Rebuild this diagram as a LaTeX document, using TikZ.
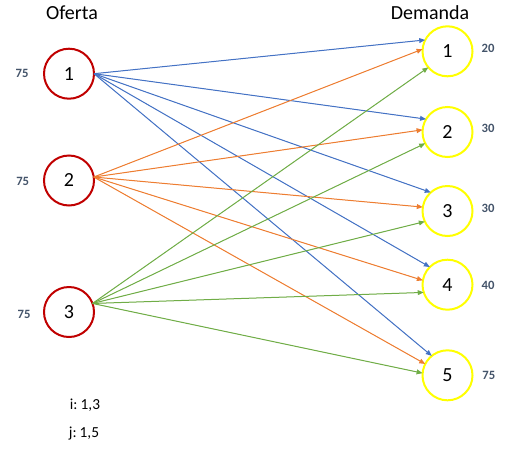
\documentclass[tikz,border=0pt]{standalone}
\usepackage{fontspec}
\setmainfont{Carlito}
\usetikzlibrary{arrows.meta}
\definecolor{supred}{HTML}{C00000}
\definecolor{demyel}{HTML}{FFFF00}
\definecolor{eblue}{HTML}{4472C4}
\definecolor{eorange}{HTML}{ED7D31}
\definecolor{egreen}{HTML}{70AD47}
\definecolor{lblcol}{HTML}{44546A}
\tikzset{
  supnode/.style={circle,draw=supred,line width=1.5pt,minimum size=37.5pt,inner sep=0pt,outer sep=0pt,font=\fontsize{15}{18}\selectfont},
  demnode/.style={circle,draw=demyel,line width=1.5pt,minimum size=37.5pt,inner sep=0pt,outer sep=0pt,font=\fontsize{15}{18}\selectfont},
  qty/.style={text=lblcol,font=\bfseries\fontsize{9.5}{11}\selectfont,inner sep=0pt},
  ttl/.style={font=\fontsize{15}{18}\selectfont,anchor=base,inner sep=0pt},
  idx/.style={font=\fontsize{11.5}{14}\selectfont,anchor=base,inner sep=0pt},
  arc/.style={line width=0.75pt,-{Triangle[length=4.5pt,width=3.6pt]}},
  barc/.style={arc,draw=eblue,fill=eblue},
  oarc/.style={arc,draw=eorange,fill=eorange},
  garc/.style={arc,draw=egreen,fill=egreen}
}
\begin{document}
\begin{tikzpicture}[x=0.75pt,y=-0.75pt]
\useasboundingbox (0,0) rectangle (520,457);
\node[ttl] (oferta) at (72,19.5) {Oferta};
\node[ttl] (demanda) at (430,19.5) {Demanda};
\node[supnode] (s1) at (69,73.7) {1};
\node[supnode] (s2) at (69,180.5) {2};
\node[supnode] (s3) at (69,312) {3};
\node[demnode] (d1) at (447.5,51.3) {1};
\node[demnode] (d2) at (447.5,132) {2};
\node[demnode] (d3) at (447.5,211) {3};
\node[demnode] (d4) at (447.5,284.7) {4};
\node[demnode] (d5) at (447.5,375.3) {5};
\node[qty] (o1) at (22,73.5) {75};
\node[qty] (o2) at (22.7,181) {75};
\node[qty] (o3) at (24,314.5) {75};
\node[qty] (q1) at (488,48.5) {20};
\node[qty] (q2) at (488,128.5) {30};
\node[qty] (q3) at (488,208) {30};
\node[qty] (q4) at (488,285.3) {40};
\node[qty] (q5) at (488.8,375.5) {75};
\node[idx] (iidx) at (85,409.3) {i:\hspace{0.2em}1,3};
\node[idx] (jidx) at (84,437) {j:\hspace{0.2em}1,5};
% from 1
\draw[barc] (s1.0) -- (d1.153);
\draw[barc] (s1.0) -- (d2.149);
\draw[barc] (s1.0) -- (d3.132);
\draw[barc] (s1.0) -- (d4.135);
\draw[barc] (s1.0) -- (d5.129);
% from 2
\draw[oarc] (s2.8) -- (d1.175);
\draw[oarc] (s2.8) -- (d2.175);
\draw[oarc] (s2.8) -- (d3.171);
\draw[oarc] (s2.8) -- (d4.170);
\draw[oarc] (s2.8) -- (d5.153);
% from 3
\draw[garc] (s3.20) -- (d1.220);
\draw[garc] (s3.20) -- (d2.207);
\draw[garc] (s3.20) -- (d3.205);
\draw[garc] (s3.20) -- (d4.198);
\draw[garc] (s3.20) -- (d5.175);
\end{tikzpicture}
\end{document}
